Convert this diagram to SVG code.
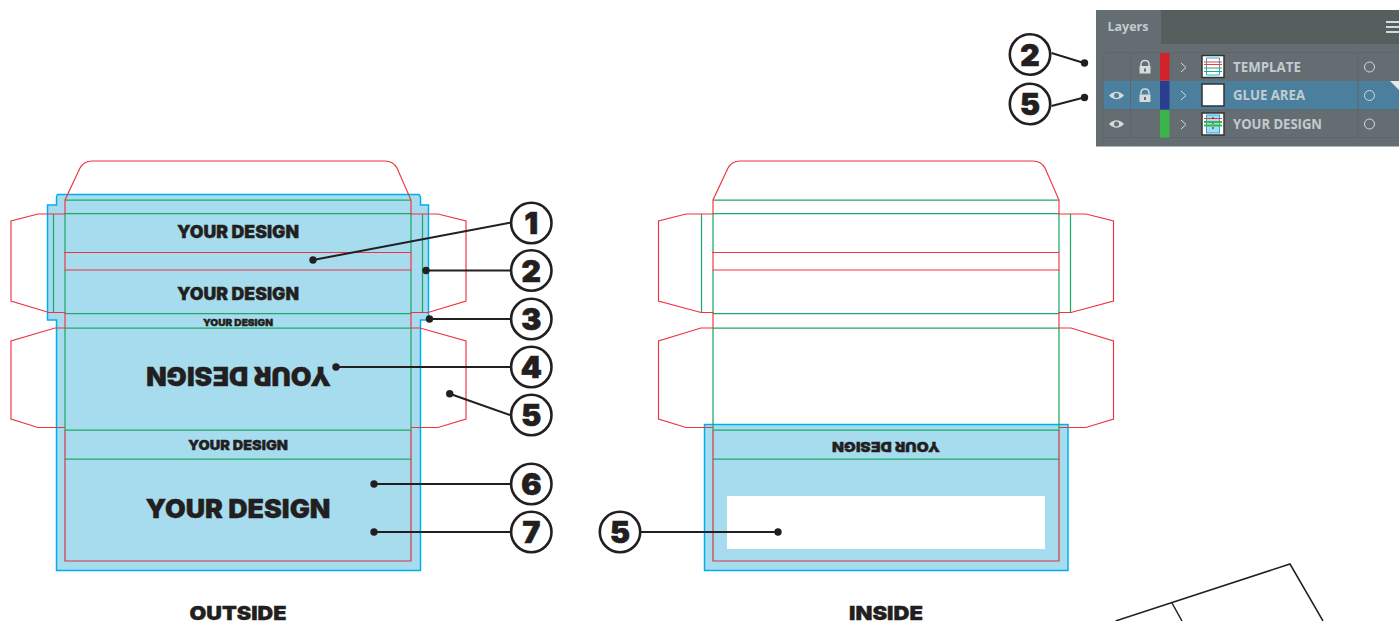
<svg xmlns="http://www.w3.org/2000/svg" width="1399" height="621" viewBox="0 0 1399 621">
<style>
.r{fill:none;stroke:#ef3340;stroke-width:1.15}
.r2{fill:none;stroke:#d1323f;stroke-width:1.15}
.g{fill:none;stroke:#1fa968;stroke-width:1.25}
.b{fill:#a7dcee;stroke:#00aeef;stroke-width:1.5}
.k{fill:none;stroke:#231f20;stroke-width:2}
.d{fill:#231f20}
.c{fill:#fff;stroke:#231f20;stroke-width:2.6}
.n{font:900 30px Inter,"Liberation Sans",sans-serif;fill:#231f20;stroke:#231f20;stroke-width:.7;text-anchor:middle}
.t{font-family:Inter,"Liberation Sans",sans-serif;font-weight:900;fill:#231f20;stroke:#231f20;stroke-width:.35;text-anchor:middle}
.l{font:700 14px "Open Sans","Liberation Sans",sans-serif;fill:#c3cbd0}
.p{fill:none;stroke:#d5dadc;stroke-width:1}
</style>
<defs>
<circle id="num" class="c" r="20.200"/>
</defs>
<g id="outside">
<path class="b" d="M57.500 194.500H419L420.500 197V205H428.500V320H420.500V570.500H56.500V320H47.500V205H56.500V197Z"/>
<path class="g" d="M65 200H411M65 213.500H411M65 313.500H411M65 328H411M65 430H411M65 459H411M65 213.500V252M65 270V313.500M65 328V430M411 213.500V252M411 270V313.500M411 328V430M53.500 214V312M422.500 214V312"/>
<path class="r" d="M65 214V200L80 168Q84 161 92 161H385Q393 161 397 168L411 200V214H438L466 221V301L428 312.500H411V328H420L466 341V419L438 427.500H411M65 214H38L11 221V301L49 312.500H65V328H55L11 341V419L38 427.500H65M64 252.500H411V270H65V252.500"/>
<path class="r2" d="M65 430V561H411V430"/>
<text class="t" x="238" y="238" font-size="17" textLength="122" lengthAdjust="spacingAndGlyphs">YOUR DESIGN</text>
<text class="t" x="238" y="300" font-size="17" textLength="122" lengthAdjust="spacingAndGlyphs">YOUR DESIGN</text>
<text class="t" x="238" y="325.500" font-size="9.500" textLength="70" lengthAdjust="spacingAndGlyphs">YOUR DESIGN</text>
<text class="t" font-size="25.500" textLength="185" lengthAdjust="spacingAndGlyphs" transform="translate(238.500 366.500) rotate(180)">YOUR DESIGN</text>
<text class="t" x="238" y="450" font-size="13.500" textLength="100" lengthAdjust="spacingAndGlyphs">YOUR DESIGN</text>
<text class="t" x="238" y="518" font-size="25.500" textLength="185" lengthAdjust="spacingAndGlyphs">YOUR DESIGN</text>
<text class="t" x="238" y="620" font-size="19" textLength="97" lengthAdjust="spacingAndGlyphs">OUTSIDE</text>
</g>
<g id="inside">
<path class="b" d="M704.500 424.500H1068V570.500H704.500Z"/>
<rect x="727" y="496" width="318" height="53" fill="#fff"/>
<path class="g" d="M713 200H1059M713 213.500H1059M713 313.500H1059M713 328H1059M713 430H1059M713 459H1059M713 213.500V252M713 270V313.500M713 328V430M1059 213.500V252M1059 270V313.500M1059 328V430M701.500 214V312M1070.500 214V312"/>
<path class="r" d="M713 214V200L728 168Q732 161 740 161H1033Q1041 161 1045 168L1059 200V214H1086L1113.500 221V301L1071 312.500H1059V328H1071L1113.500 341V419L1086 427.500H1059M713 214H686L658.500 221V301L701 312.500H713V328H701L658.500 341V419L686 427.500H713M712 252.500H1059V270H713V252.500"/>
<path class="r2" d="M713 430V561H1059V430"/>
<text class="t" font-size="13.500" textLength="108" lengthAdjust="spacingAndGlyphs" transform="translate(886 441.500) rotate(180)">YOUR DESIGN</text>
<text class="t" x="886" y="620" font-size="19" textLength="74" lengthAdjust="spacingAndGlyphs">INSIDE</text>
</g>
<g id="layers">
<rect x="1096" y="10" width="303" height="136.500" fill="#646e72"/>
<rect x="1161" y="10" width="238" height="34" fill="#555f5e"/>
<text x="1107.500" y="31" font-family="'Open Sans','Liberation Sans',sans-serif" font-weight="700" font-size="12.500" fill="#c3cbd0">Layers</text>
<path d="M1386 22H1399M1386 27H1399M1386 32H1399" stroke="#d5dadc" stroke-width="2"/>
<rect x="1103" y="81" width="296" height="28.500" fill="#4a7f9d"/>
<path d="M1103 146V58Q1103 52.500 1108 52.500H1399M1103 110H1399M1103 137.500H1399M1130.500 52.500V137.500M1358 52.500V137.500" fill="none" stroke="#5d6769"/>
<rect x="1160" y="53" width="9.500" height="27.500" fill="#d2232a"/>
<rect x="1160" y="81" width="9.500" height="28.500" fill="#2b3d8f"/>
<rect x="1160" y="110" width="9.500" height="27.500" fill="#39b54a"/>
<path d="M1181 63L1186 67.500L1181 72M1181 91L1186 95.500L1181 100M1181 120L1186 124.500L1181 129" fill="none" stroke="#d5dadc"/>
<rect x="1202" y="55.500" width="22" height="22" fill="#fff" stroke="#333" stroke-width="1.500"/>
<path d="M1206.500 58H1219.500V75H1206.500Z" fill="none" stroke="#27aae1"/>
<path d="M1204 62H1222M1204 64.500H1222" stroke="#ee3a43"/>
<path d="M1204 68H1222M1204 71.500H1222" stroke="#2aa866"/>
<rect x="1202" y="84" width="22" height="22" fill="#fff" stroke="#333" stroke-width="1.500"/>
<rect x="1202" y="113" width="22" height="22" fill="#fff" stroke="#333" stroke-width="1.500"/>
<rect x="1206.500" y="115" width="13" height="18" fill="#a7dcee" stroke="#27aae1"/>
<path d="M1204 118.500H1222" stroke="#ee3a43"/>
<path d="M1204 122H1222M1204 125.500H1222" stroke="#39b54a" stroke-width="2"/>
<path d="M1213 117V119M1213 123V124M1213 127V129" stroke="#231f20"/>
<text class="l" x="1233" y="72" textLength="68" lengthAdjust="spacingAndGlyphs">TEMPLATE</text>
<text class="l" x="1233" y="100" textLength="72" lengthAdjust="spacingAndGlyphs">GLUE AREA</text>
<text class="l" x="1233" y="129" textLength="89" lengthAdjust="spacingAndGlyphs">YOUR DESIGN</text>
<circle class="p" cx="1369.500" cy="67" r="5"/>
<circle class="p" cx="1369.500" cy="95.500" r="5"/>
<circle class="p" cx="1369.500" cy="124" r="5"/>
<path d="M1390 81H1399V90Z" fill="#e6e9ea"/>
<path d="M1109 95.500Q1116.500 88 1124 95.500Q1116.500 103 1109 95.500ZM1109 124Q1116.500 116.500 1124 124Q1116.500 131.500 1109 124Z" fill="#d5dadc"/>
<circle cx="1116.500" cy="95.500" r="2.500" fill="#4a7f9d"/>
<circle cx="1116.500" cy="124" r="2.500" fill="#646e72"/>
<path d="M1141 66V64.500Q1141 60.500 1145 60.500Q1149 60.500 1149 64.500V66M1141 94.500V93Q1141 89 1145 89Q1149 89 1149 93V94.500" fill="none" stroke="#d5dadc" stroke-width="1.500"/>
<rect x="1139.500" y="66" width="11" height="7.500" fill="#d5dadc"/>
<rect x="1139.500" y="94.500" width="11" height="7.500" fill="#d5dadc"/>
<path d="M1145 68.500V71.500M1145 97V100" stroke="#646e72" stroke-width="2"/>
</g>
<g id="connectors">
<path class="k" d="M313 260L510 222.700M426 270.500H510M429.500 319H510M336 367H510M449.700 393.700L510 415M374 484H510M374 532H510M778 532H641M1084 63L1051.500 53M1084 97.500L1051.500 106"/>
<g class="d"><circle cx="313" cy="260" r="3.700"/><circle cx="426" cy="270.500" r="3.700"/><circle cx="429.500" cy="319" r="3.700"/><circle cx="336" cy="367" r="3.700"/><circle cx="449.700" cy="393.700" r="3.700"/><circle cx="374" cy="484" r="3.700"/><circle cx="374" cy="532" r="3.700"/><circle cx="778" cy="532" r="3.700"/><circle cx="1084.500" cy="63" r="3.700"/><circle cx="1084.500" cy="97.500" r="3.700"/></g>
</g>
<g id="n1"><use href="#num" x="531.300" y="223"/><text class="n" x="531.300" y="234">1</text></g>
<g id="n2"><use href="#num" x="531.300" y="270.500"/><text class="n" x="531.300" y="281.500">2</text></g>
<g id="n3"><use href="#num" x="531.300" y="319"/><text class="n" x="531.300" y="330">3</text></g>
<g id="n4"><use href="#num" x="531.300" y="367"/><text class="n" x="531.300" y="378">4</text></g>
<g id="n5"><use href="#num" x="531.300" y="415"/><text class="n" x="531.300" y="426">5</text></g>
<g id="n6"><use href="#num" x="531.300" y="484"/><text class="n" x="531.300" y="495">6</text></g>
<g id="n7"><use href="#num" x="531.300" y="532"/><text class="n" x="531.300" y="543">7</text></g>
<g id="n5b"><use href="#num" x="620" y="532"/><text class="n" x="620" y="543">5</text></g>
<g id="n2b"><use href="#num" x="1030" y="54.500"/><text class="n" x="1030" y="65.500">2</text></g>
<g id="n5c"><use href="#num" x="1030" y="104"/><text class="n" x="1030" y="115">5</text></g>
<g id="box"><path d="M1115.500 621L1290 564L1323 621M1172 603L1182 621" fill="none" stroke="#231f20" stroke-width="1.500"/></g>
</svg>
